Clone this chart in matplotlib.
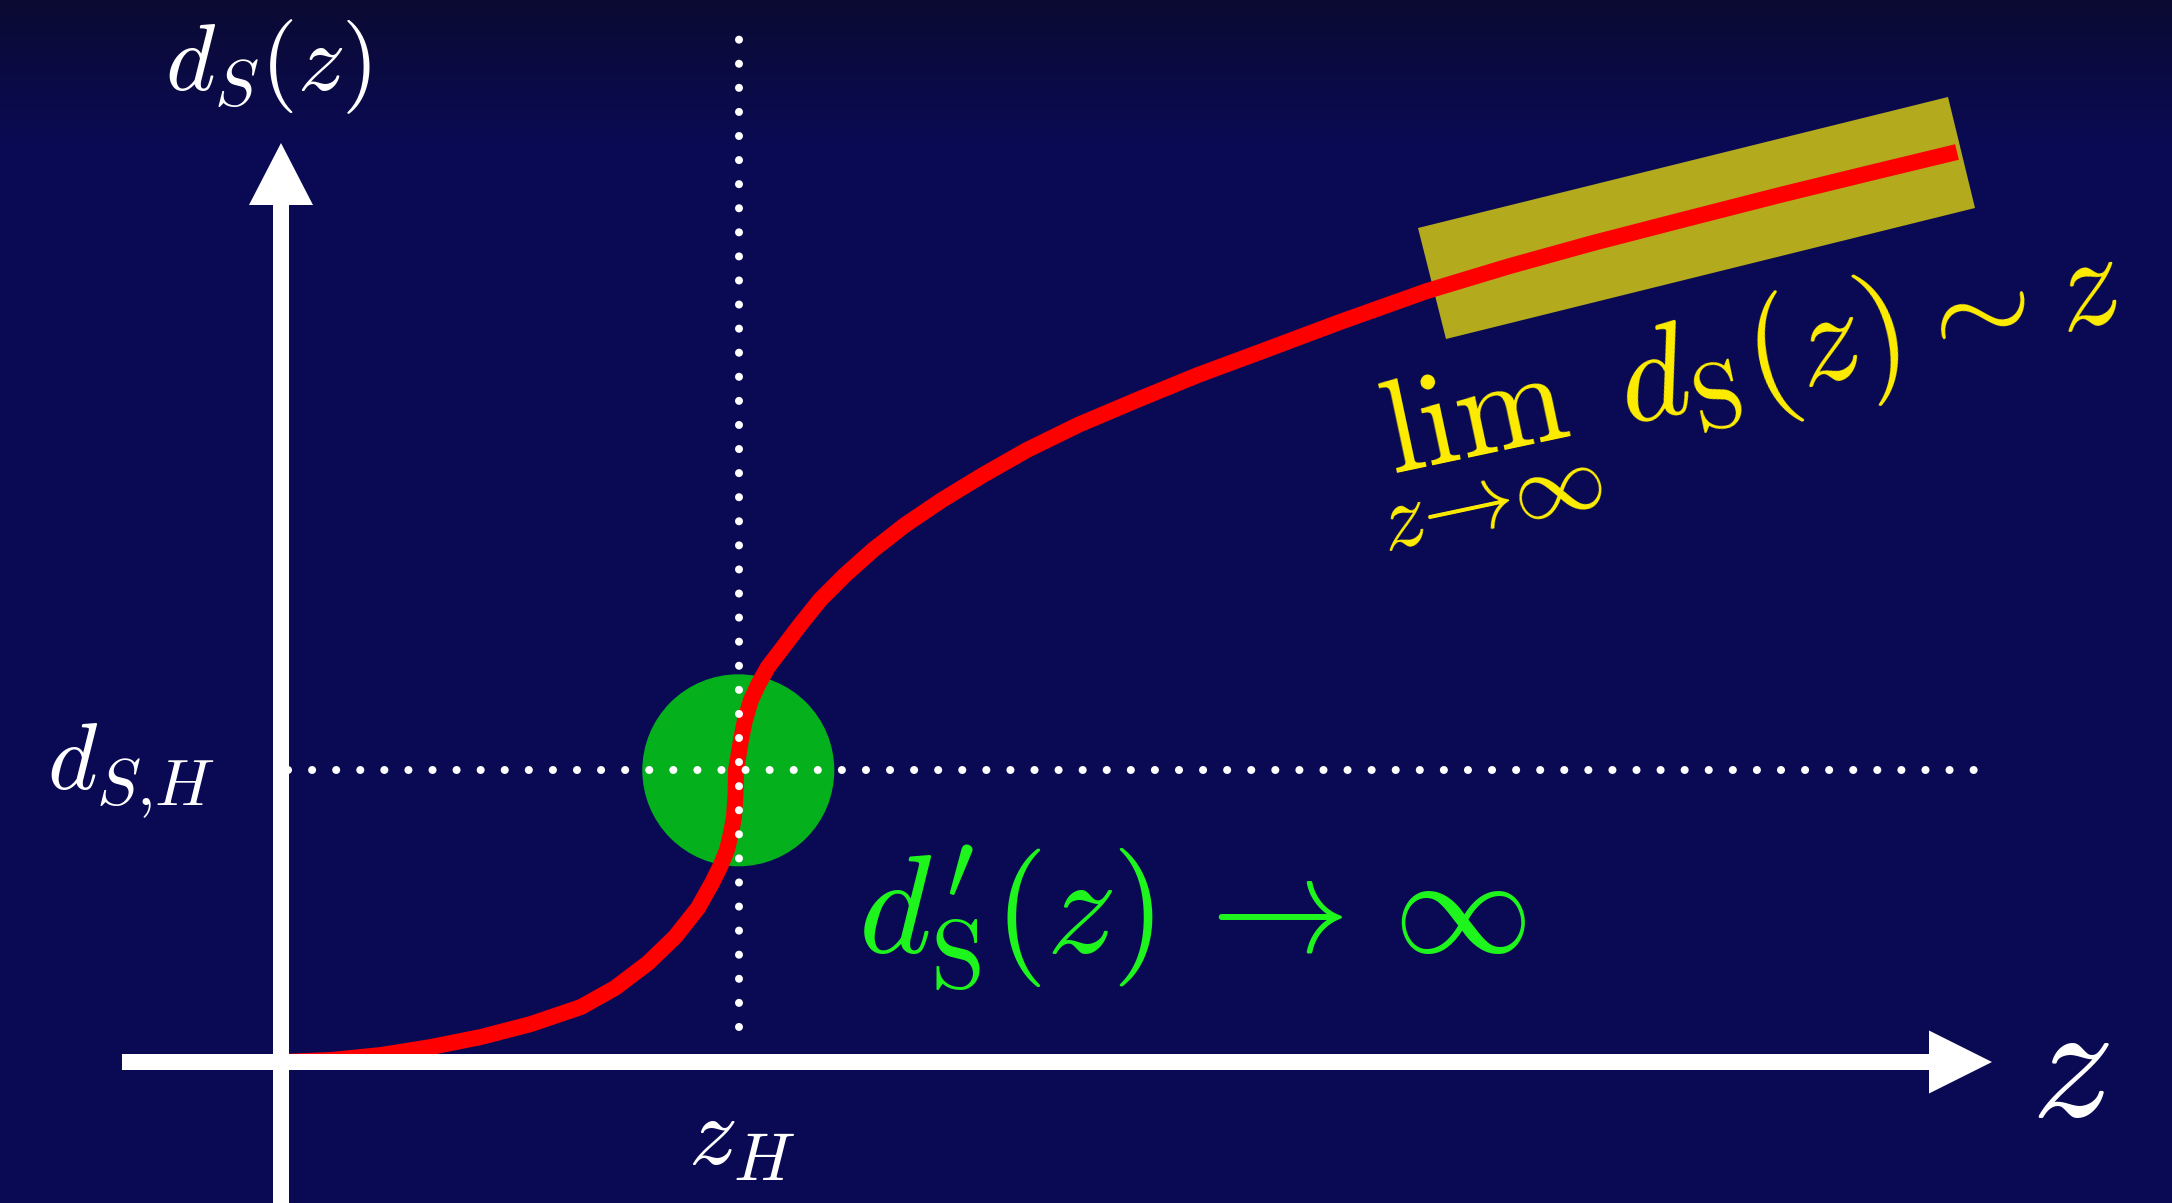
import numpy as np
import matplotlib.pyplot as plt
from matplotlib.patches import FancyArrow, Circle, Polygon

plt.rcParams['mathtext.fontset'] = 'cm'

# sketch of d_S(z): flat start, vertical tangent at z_H, linear growth for large z
z_vals = [0.00, 0.50, 1.00, 1.50, 2.00, 2.50, 3.00, 3.34, 3.67, 3.94, 4.17, 4.31,
          4.39, 4.46, 4.50, 4.53, 4.545, 4.55, 4.60, 4.64, 4.70, 4.78, 4.87, 5.00,
          5.19, 5.39, 5.64, 5.92, 6.24, 6.61, 7.02, 7.46, 7.97, 8.56, 9.17, 9.79,
          10.59, 11.46, 12.29, 13.12, 14.05, 14.99, 15.89, 16.76]
d_vals = [0.00, 0.02, 0.07, 0.15, 0.25, 0.38, 0.55, 0.74, 0.99, 1.25, 1.54, 1.79,
          1.95, 2.12, 2.29, 2.45, 2.67, 2.92, 3.22, 3.42, 3.62, 3.79, 3.95, 4.12,
          4.37, 4.62, 4.87, 5.12, 5.37, 5.62, 5.87, 6.12, 6.37, 6.62, 6.87, 7.10,
          7.40, 7.71, 7.96, 8.19, 8.43, 8.67, 8.89, 9.10]

z_H = 4.578
d_SH = 2.917

# highlighted asymptotic region (corners)
box_corners = [(11.37, 8.34), (16.67, 9.65), (16.94, 8.54), (11.65, 7.23)]

fig = plt.figure(figsize=(21.72, 12.03), dpi=100)
ax = fig.add_axes([0, 0, 1, 1])
xmin, xmax = -2.81, 18.91
ymin, ymax = -1.41, 10.62
ax.set_xlim(xmin, xmax)
ax.set_ylim(ymin, ymax)
ax.axis('off')

# dark blue background, a bit darker at the top
t = np.linspace(0, 1, 400)
top = np.array([0.040, 0.040, 0.200])
mid = np.array([0.043, 0.040, 0.330])
w = np.clip(t / 0.12, 0, 1)[:, None]
bg = (top * (1 - w) + mid * w)[:, None, :]
ax.imshow(bg, extent=(xmin, xmax, ymin, ymax), aspect='auto', origin='upper',
          interpolation='bilinear', zorder=0)

ax.add_patch(Polygon(box_corners, closed=True, facecolor='#b4aa1e', lw=0, zorder=1))
ax.add_patch(Circle((z_H - 0.005, d_SH), 0.96, facecolor='#04b01c', lw=0, zorder=2))

ax.plot(z_vals, d_vals, color='#ff0000', lw=11.5, solid_joinstyle='round',
        solid_capstyle='butt', zorder=3)

# dotted guides through z_H and d_{S,H}
dots = dict(color='white', lw=5.76, ls=(0, (0.01, 3.0)), dash_capstyle='round', zorder=4)
ax.plot([z_H, z_H], [0.347, 10.43], **dots)
ax.plot([0.067, 17.11], [d_SH, d_SH], **dots)

# axes arrows
ax.add_patch(FancyArrow(-1.59, 0, 18.70, 0, width=0.16, head_width=0.63, head_length=0.63,
                        length_includes_head=True, color='white', lw=0, zorder=5))
ax.add_patch(FancyArrow(0, -1.6, 0, 10.79, width=0.16, head_width=0.64, head_length=0.62,
                        length_includes_head=True, color='white', lw=0, zorder=5))

ax.text(-0.13, 9.95, r'$d_S(z)$', color='white', fontsize=68, ha='center', va='center')
ax.text(-1.50, 2.91, r'$d_{S{,}H}$', color='white', fontsize=68, ha='center', va='center')
ax.text(4.61, -0.76, r'$z_H$', color='white', fontsize=70, ha='center', va='center')
ax.text(17.89, -0.08, r'$z$', color='white', fontsize=118, ha='center', va='center')

ax.text(9.11, 1.44, r"$d^{\prime}_\mathrm{S}(z)\,\rightarrow\,\infty$", color='#1df51d',
        fontsize=100, ha='center', va='center')
ax.text(14.64, 6.75, r'$\lim_{z\to\infty}\;d_\mathrm{S}\!(z)\sim z$', color='#ffee00',
        fontsize=96, ha='center', va='center', rotation=12)

fig.savefig('out.png', dpi=100)
